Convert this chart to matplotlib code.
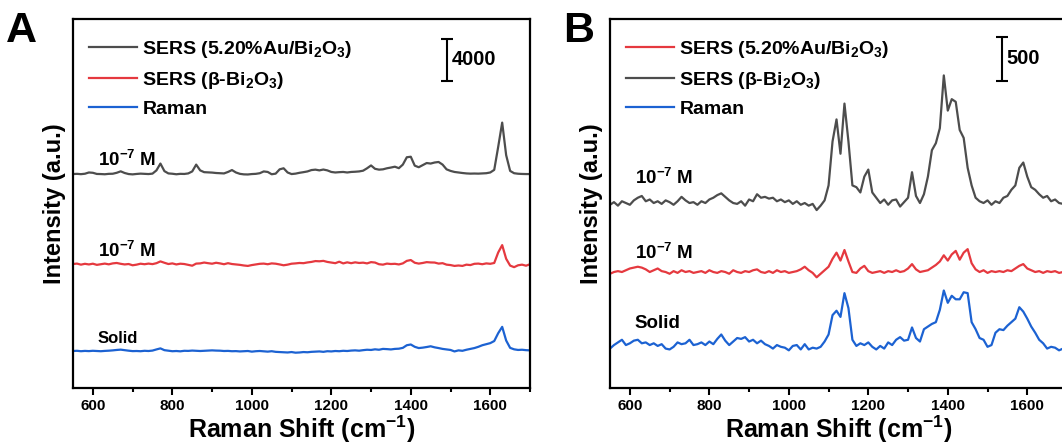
# SERS / Raman spectra, two panels (A: full traces, B: zoomed scale)

import matplotlib
matplotlib.use('Agg')
import matplotlib.pyplot as plt
from matplotlib.ticker import MultipleLocator
from matplotlib.lines import Line2D
import numpy as np

# Raman shift (cm-1), shared by all traces
shift = [550, 560, 570, 580, 590, 600, 610, 620, 630, 640,
         650, 660, 670, 680, 690, 700, 710, 720, 730, 740,
         750, 760, 770, 780, 790, 800, 810, 820, 830, 840,
         850, 860, 870, 880, 890, 900, 910, 920, 930, 940,
         950, 960, 970, 980, 990, 1000, 1010, 1020, 1030, 1040,
         1050, 1060, 1070, 1080, 1090, 1100, 1110, 1120, 1130, 1140,
         1150, 1160, 1170, 1180, 1190, 1200, 1210, 1220, 1230, 1240,
         1250, 1260, 1270, 1280, 1290, 1300, 1310, 1320, 1330, 1340,
         1350, 1360, 1370, 1380, 1390, 1400, 1410, 1420, 1430, 1440,
         1450, 1460, 1470, 1480, 1490, 1500, 1510, 1520, 1530, 1540,
         1550, 1560, 1570, 1580, 1590, 1600, 1610, 1620, 1630, 1640,
         1650, 1660, 1670, 1680, 1690, 1700]

# panel A, intensities relative to each trace's baseline
a_gray = [0, 20, -10, 30, 150, 120, 10, 0, -20, 20,
          30, 120, 260, 100, 0, -30, 10, 40, 20, 0,
          40, 350, 1000, 280, 60, 30, -20, 20, 10, 60,
          250, 900, 350, 180, 160, 140, 100, 80, 60, 200,
          380, 150, 20, -30, -40, 0, 20, 80, 250, 200,
          -20, 40, 450, 550, 150, 0, 40, 120, 180, 250,
          380, 420, 350, 430, 350, 200, 150, 180, 200, 150,
          200, 220, 250, 320, 550, 820, 500, 420, 450, 550,
          620, 700, 560, 900, 1600, 1650, 800, 650, 850, 1050,
          1000, 1100, 1150, 900, 450, 300, 200, 150, 100, 60,
          40, 50, 40, 60, 80, 150, 400, 2600, 4900, 1800,
          300, 80, 30, 10, 0, 0]
a_red = [0, 40, -60, 20, -40, 30, -80, -20, 40, -30,
         60, 100, 20, -40, 0, -120, -60, 30, -20, 40,
         -10, 80, 250, 120, 0, 60, -40, 30, 0, -80,
         -160, 40, 60, 140, 80, 30, 120, 60, -20, 80,
         0, -40, -80, -140, -180, -100, -40, 20, 40, -20,
         60, 30, -40, -120, -60, 30, 60, 100, 80, 150,
         200, 280, 260, 300, 200, 140, 80, 220, 60, 160,
         80, 160, 100, 130, 60, 180, 140, -20, -60, 40,
         0, 20, -40, 60, 300, 380, 120, 40, 100, 180,
         150, 140, 40, 80, -60, -100, -180, -140, -180, -60,
         -100, 20, 40, -20, 60, 20, 100, 1100, 1800, 500,
         -150, -300, -120, -60, -160, -20]
a_blue = [0, 20, -20, 10, -10, 20, 0, -20, 10, 30,
          60, 100, 130, 80, 30, -10, 0, -20, 20, 0,
          40, 150, 250, 80, 30, -20, 0, -30, 20, 10,
          40, 20, 0, 20, 40, 60, 40, 30, 0, 10,
          -20, -10, -40, -20, 0, -60, -20, 0, -30, -60,
          -20, -80, -100, -120, -140, -100, -160, -140, -100, -120,
          -80, -60, -40, -80, -20, -40, 0, -20, 20, 0,
          40, 60, 30, 80, 120, 100, 160, 120, 200, 180,
          150, 200, 220, 300, 550, 620, 400, 280, 320, 380,
          450, 350, 280, 200, 150, 100, -40, 60, 20, 120,
          200, 280, 400, 550, 650, 750, 950, 1700, 2300, 1000,
          300, 160, 100, 120, 80, 60]

# panel B
b_gray = [-20, 10, -30, 20, 0, -20, 30, 60, 80, 20,
          40, 0, 20, -10, 30, 10, -20, 20, 70, 30,
          0, 10, -20, 20, 0, 40, 60, 90, 110, 70,
          30, 0, -10, 20, -30, 40, 20, 100, 60, 70,
          50, 60, 20, 40, 10, 30, -10, 20, -20, 0,
          -30, -10, -80, -30, 30, 200, 700, 950, 560, 1130,
          700, 200, 180, 120, 300, 380, 120, 60, 0, 40,
          -20, 30, 40, -40, 10, 60, 350, 80, 0, 100,
          300, 600, 680, 850, 1450, 1050, 1180, 1150, 830, 740,
          400, 200, 60, 20, 0, 30, -20, 20, 0, 60,
          80, 150, 200, 400, 460, 300, 180, 150, 100, 60,
          80, 20, 40, 0, -10, 20]
b_red = [-20, 0, 10, 0, 20, 40, 50, 60, 50, 30,
         0, 20, 40, 10, 0, -20, 10, -10, 20, 0,
         10, -10, 0, 10, -10, 20, 0, -10, 10, 0,
         -20, 20, 0, -10, 10, 0, 20, 30, 0, -10,
         10, -10, 20, 0, 10, -10, 0, 10, 30, 60,
         20, -10, -60, -20, 20, 60, 150, 220, 130, 250,
         120, 0, -10, 40, 70, 10, -10, 0, 10, -10,
         10, 0, 20, 0, 10, 40, 90, 30, 0, 10,
         20, 50, 80, 120, 190, 130, 200, 240, 140, 220,
         260, 100, 30, 0, 20, -10, 10, 0, 10, 0,
         20, 10, 40, 70, 90, 40, 20, 0, 10, -10,
         10, 0, 10, -10, 0, -20]
b_blue = [-40, 0, 30, 60, 0, 20, 50, 60, 20, 30,
          0, 20, -10, 10, -40, -50, -20, 30, 10, 20,
          60, 0, 10, 30, 0, 40, 10, 70, 120, 50,
          0, 40, 80, 70, 90, 40, 60, 20, 50, 10,
          -10, -40, 0, -20, -30, -60, -10, 0, -50, 10,
          -50, -30, -40, -20, 40, 120, 340, 390, 320, 590,
          420, 60, -10, 20, 0, 30, -20, -50, -10, -40,
          30, 0, 60, 90, 50, 60, 200, 80, 40, 180,
          210, 240, 260, 400, 620, 480, 560, 520, 520, 600,
          590, 260, 180, 80, 60, -20, 0, 140, 180, 170,
          220, 260, 300, 430, 380, 300, 210, 140, 60, 20,
          -40, -20, -30, -60, -40, -70]

label_au = r'SERS (5.20%Au/Bi$_2$O$_3$)'
label_bi = r'SERS ($\beta$-Bi$_2$O$_3$)'
label_raman = 'Raman'

GRAY = '#4d4d4d'
RED = '#e5393f'
BLUE = '#1c62d2'


def draw_panel(ax, traces, offsets, ymax, legend_items, bar, bar_x, tags, tag_y, tag_size):
    for (vals, color), off in zip(traces, offsets):
        ax.plot(shift, np.array(vals) + off, color=color, lw=1.6)

    ax.set_xlim(550, 1700)
    ax.set_ylim(0, ymax)
    ax.set_yticks([])
    ax.xaxis.set_major_locator(MultipleLocator(200))
    ax.xaxis.set_minor_locator(MultipleLocator(100))
    ax.tick_params(axis='x', which='major', direction='out', length=5, width=1.5,
                   labelsize=11, pad=3)
    ax.tick_params(axis='x', which='minor', direction='out', length=3, width=1.5)
    for sp in ax.spines.values():
        sp.set_linewidth(1.6)

    ax.set_xlabel(r'Raman Shift (cm$^{-1}$)', fontsize=18, labelpad=0)
    ax.set_ylabel('Intensity (a.u.)', fontsize=17, labelpad=5)

    handles = [Line2D([], [], color=c, lw=1.6) for c, _ in legend_items]
    ax.legend(handles, [l for _, l in legend_items], loc='upper left',
              bbox_to_anchor=(0.035, 0.946), frameon=False, fontsize=14,
              handlelength=2.45, handletextpad=0.3, labelspacing=0.5,
              borderaxespad=0, borderpad=0)

    # scale bar
    y0 = ymax * 0.832
    ax.errorbar([bar_x], [y0 + bar / 2], yerr=[bar / 2], color='k', lw=1.5,
                capsize=4, capthick=1.5)
    ax.text(bar_x + 12, y0 + bar / 2, str(bar), fontsize=14.5, va='center', ha='left')

    for t, y, s in zip(tags, tag_y, tag_size):
        ax.text(612, y, t, fontsize=s, va='center', ha='left')


def main():
    plt.rcParams['font.family'] = ['Liberation Sans', 'DejaVu Sans']
    plt.rcParams['font.weight'] = 'bold'
    plt.rcParams['axes.labelweight'] = 'bold'
    plt.rcParams['mathtext.fontset'] = 'custom'
    plt.rcParams['mathtext.rm'] = 'Liberation Sans:bold'
    plt.rcParams['mathtext.it'] = 'Liberation Sans:bold'
    plt.rcParams['mathtext.bf'] = 'Liberation Sans:bold'
    plt.rcParams['mathtext.sf'] = 'Liberation Sans:bold'

    fig = plt.figure(figsize=(10.62, 4.45), dpi=100)
    W, H = 1062., 445.
    axA = fig.add_axes([73 / W, 57 / H, 457 / W, 369 / H])
    axB = fig.add_axes([610 / W, 57 / H, 457 / W, 369 / H])

    ymax_a = 35150
    draw_panel(axA, [(a_gray, GRAY), (a_red, RED), (a_blue, BLUE)],
               [20380, 11810, 3524], ymax_a,
               [(GRAY, label_au), (RED, label_bi), (BLUE, label_raman)],
               4000, 1490,
               [r'10$^{-7}$ M', r'10$^{-7}$ M', 'Solid'],
               [21715, 13050, 4760], [13.5, 13.5, 12])

    ymax_b = 4193
    draw_panel(axB, [(b_gray, GRAY), (b_red, RED), (b_blue, BLUE)],
               [2102, 1318, 488], ymax_b,
               [(RED, label_au), (GRAY, label_bi), (BLUE, label_raman)],
               500, 1536,
               [r'10$^{-7}$ M', r'10$^{-7}$ M', 'Solid'],
               [2386, 1534, 738], [13.5, 13.5, 13.5])

    fig.text(6 / W, 1 - 42 / H, 'A', fontsize=31, fontweight='bold', va='baseline')
    fig.text(563 / W, 1 - 42 / H, 'B', fontsize=31, fontweight='bold', va='baseline')

    fig.savefig('out.png', dpi=100)


if __name__ == "__main__":
    main()
